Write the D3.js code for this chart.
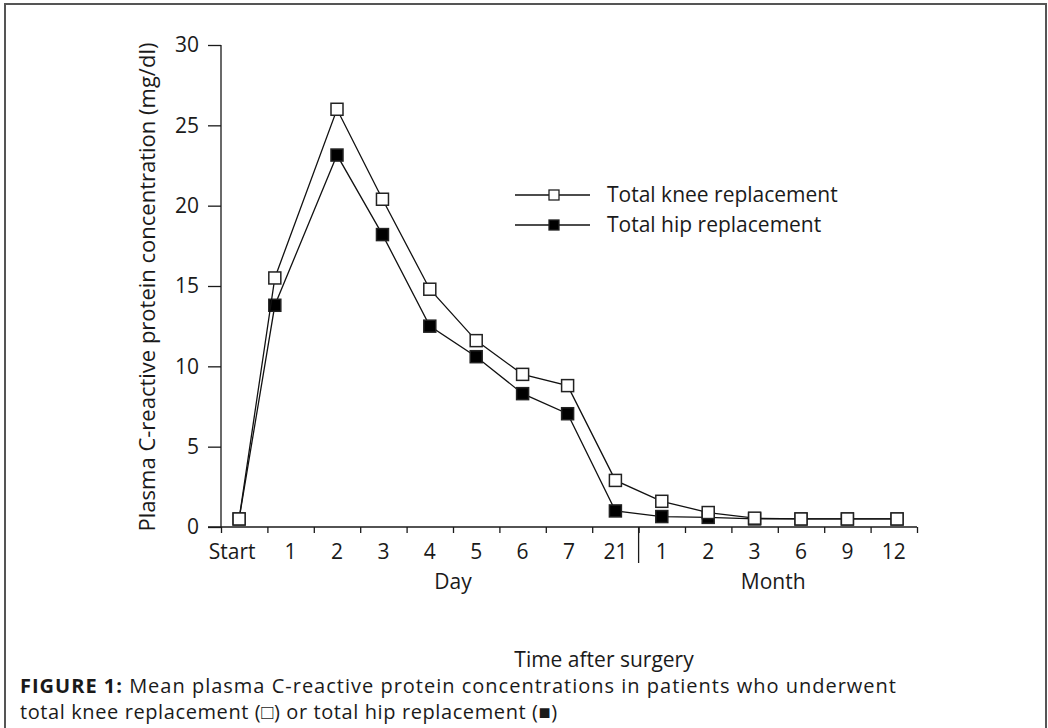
<!DOCTYPE html>
<html>
<head>
<meta charset="utf-8">
<script src="https://cdn.jsdelivr.net/npm/d3@7"></script>
<style>
  body { margin: 0; background: #fff; }
  svg text { font-family: "Open Sans", "Noto Sans", sans-serif; fill: #1a1a1a; }
</style>
</head>
<body>
<div class="chart"></div>
<script>
// categories along the x axis (Day group, then Month group)
var categories = ["Start", "1", "2", "3", "4", "5", "6", "7", "21", "1", "2", "3", "6", "9", "12"];
// where each point sits, in category units from the y axis
var pointPos = [0.39, 1.16, 2.5, 3.48, 4.5, 5.5, 6.5, 7.47, 8.5, 9.5, 10.5, 11.5, 12.5, 13.5, 14.57];
var labelPos = [0.24, 1.5, 2.5, 3.5, 4.5, 5.5, 6.5, 7.5, 8.5, 9.5, 10.5, 11.5, 12.5, 13.5, 14.5];
var groups = [{name: "Day", at: 5}, {name: "Month", at: 11.9}];
var groupSplit = 9;

var knee = [0.5, 15.5, 26.0, 20.4, 14.8, 11.6, 9.5, 8.8, 2.9, 1.6, 0.9, 0.55, 0.5, 0.5, 0.5];
var hip  = [0.5, 13.8, 23.15, 18.2, 12.5, 10.6, 8.3, 7.05, 1.0, 0.65, 0.6, 0.5, 0.5, 0.5, 0.5];
var yTicks = [0, 5, 10, 15, 20, 25, 30];

var width = 1048, height = 728;
var font = '"Open Sans", "Noto Sans", sans-serif';

var svg = d3.select(".chart")
	.append("svg")
	.attr("width", width)
	.attr("height", height);

// frame round the figure (open at the bottom)
svg.append("path")
	.attr("d", "M5,728 V4 H1046 V728")
	.attr("fill", "none")
	.attr("stroke", "#555")
	.attr("stroke-width", 2);

var x = d3.scaleLinear().domain([0, categories.length]).range([221, 917]);
var y = d3.scaleLinear().domain([0, 30]).range([527, 45]);

// y axis
var yAxis = svg.append("g")
	.attr("transform", "translate(221,0)")
	.call(d3.axisLeft(y).tickValues(yTicks).tickSize(13).tickPadding(9));
yAxis.select(".domain").attr("stroke", "#1a1a1a").attr("stroke-width", 1.3).attr("d", "M0,45V527");
yAxis.selectAll(".tick line").attr("stroke", "#1a1a1a").attr("stroke-width", 1.3);
yAxis.selectAll("text").style("font-size", "21px").style("font-family", font).attr("fill", "#1a1a1a");

// x axis: plain ticks at category borders
var xAxis = svg.append("g")
	.attr("transform", "translate(0,527)")
	.call(d3.axisBottom(x).tickValues(d3.range(0, categories.length + 1)).tickSize(6).tickFormat(""));
xAxis.select(".domain").attr("stroke", "#1a1a1a").attr("stroke-width", 1.3).attr("d", "M208,0H917");
xAxis.selectAll(".tick line").attr("stroke", "#1a1a1a").attr("stroke-width", 1.3);

// separator between day and month
svg.append("line")
	.attr("x1", x(groupSplit)).attr("x2", x(groupSplit))
	.attr("y1", 527).attr("y2", 563)
	.attr("stroke", "#1a1a1a")
	.attr("stroke-width", 1.3);

svg.append("g")
	.selectAll("text")
	.data(categories)
	.enter()
	.append("text")
	.attr("x", function(d, i) { return x(labelPos[i]); })
	.attr("y", 559)
	.attr("text-anchor", "middle")
	.style("font-size", "21px")
	.text(function(d) { return d; });

svg.append("g")
	.selectAll("text")
	.data(groups)
	.enter()
	.append("text")
	.attr("x", function(d) { return x(d.at); })
	.attr("y", 589)
	.attr("text-anchor", "middle")
	.style("font-size", "21px")
	.text(function(d) { return d.name; });

svg.append("text")
	.attr("x", 604)
	.attr("y", 667)
	.attr("text-anchor", "middle")
	.style("font-size", "21px")
	.text("Time after surgery");

// y axis title
svg.append("text")
	.attr("transform", "translate(155,287) rotate(-90)")
	.attr("text-anchor", "middle")
	.style("font-size", "22px")
	.text("Plasma C-reactive protein concentration (mg/dl)");

// lines and markers, hip first so knee squares sit on top
var series = [
	{name: "Total hip replacement", values: hip, fill: "#000"},
	{name: "Total knee replacement", values: knee, fill: "#fff"}
];

var line = d3.line()
	.x(function(d, i) { return x(pointPos[i]); })
	.y(function(d) { return y(d); });

var ms = 12;
series.forEach(function(s) {
	svg.append("path")
		.datum(s.values)
		.attr("fill", "none")
		.attr("stroke", "#111")
		.attr("stroke-width", 1.3)
		.attr("d", line);

	svg.append("g")
		.selectAll("rect")
		.data(s.values)
		.enter()
		.append("rect")
		.attr("x", function(d, i) { return x(pointPos[i]) - ms / 2; })
		.attr("y", function(d) { return y(d) - ms / 2; })
		.attr("width", ms)
		.attr("height", ms)
		.attr("fill", s.fill)
		.attr("stroke", "#222")
		.attr("stroke-width", 1.5);
});

// legend
var legend = [series[1], series[0]];
var lg = svg.append("g").selectAll("g")
	.data(legend)
	.enter()
	.append("g")
	.attr("transform", function(d, i) { return "translate(0," + (195 + i * 30) + ")"; });
lg.append("line")
	.attr("x1", 515).attr("x2", 590)
	.attr("stroke", "#111").attr("stroke-width", 1.3);
lg.append("rect")
	.attr("x", 549).attr("y", -5)
	.attr("width", 10).attr("height", 10)
	.attr("fill", function(d) { return d.fill; })
	.attr("stroke", "#222").attr("stroke-width", 1.3);
lg.append("text")
	.attr("x", 607).attr("y", 7)
	.style("font-size", "21px")
	.text(function(d) { return d.name; });

// caption
var cap = svg.append("text").attr("x", 20).attr("y", 693)
	.style("font-size", "20px").style("letter-spacing", "1px");
cap.append("tspan").style("font-weight", "bold").text("FIGURE 1:");
cap.append("tspan").text(" Mean plasma C-reactive protein concentrations in patients who underwent");
var cap2 = svg.append("text").attr("x", 20).attr("y", 719)
	.style("font-size", "20px").style("letter-spacing", "0.6px");
cap2.append("tspan").text("total knee replacement (\u25A1) or total hip replacement (\u25A0)");
</script>
</body>
</html>
